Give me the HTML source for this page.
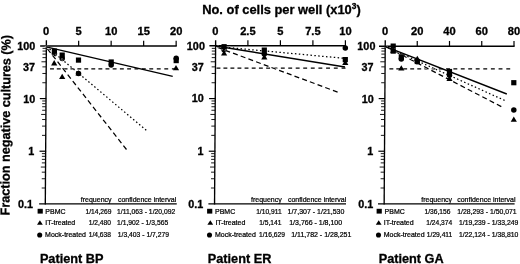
<!DOCTYPE html>
<html><head><meta charset="utf-8"><title>Figure</title>
<style>html,body{margin:0;padding:0;background:#fff}body{width:520px;height:264px;overflow:hidden}svg{display:block}</style>
</head><body>
<svg width="520" height="264" viewBox="0 0 520 264">
<rect width="520" height="264" fill="#fff"/>
<text transform="translate(202.2 14.4) scale(1.015 1)" style="font-family:'Liberation Sans',sans-serif;font-weight:bold;font-size:12.7px" fill="#000" stroke="#000" stroke-width="0.3">No. of cells per well (x10<tspan dy="-5.2" font-size="8.3px">3</tspan><tspan dy="5.2">)</tspan></text>
<text transform="translate(9.4 215.4) rotate(-89.62) scale(0.9725 1)" style="font-family:'Liberation Sans',sans-serif;font-weight:bold;font-size:13px" fill="#000" stroke="#000" stroke-width="0.3">Fraction negative cultures (%)</text>
<g stroke="#000" stroke-width="1.35" fill="none" stroke-linecap="butt">
<path d="M46.40 40.35 L45.30 204.45"/>
<path d="M40.15 45.95 H176.75" stroke-width="1.5"/>
<path d="M39.15 203.85 H176.75" stroke-width="1.3"/>
<path d="M78.65 40.65 V45.95" stroke-width="1.2"/>
<path d="M111.15 40.65 V45.95" stroke-width="1.2"/>
<path d="M143.65 40.65 V45.95" stroke-width="1.2"/>
<path d="M176.15 40.65 V45.95" stroke-width="1.2"/>
</g>
<g stroke="#000" stroke-width="0.9" fill="none">
<path d="M42.33 82.74 H45.93"/>
<path d="M42.39 73.47 H45.99"/>
<path d="M42.42 66.89 H46.02"/>
<path d="M41.46 61.79 H46.06"/>
<path d="M42.48 57.63 H46.08"/>
<path d="M42.50 54.10 H46.10"/>
<path d="M42.52 51.05 H46.12"/>
<path d="M42.54 48.36 H46.14"/>
<path d="M39.83 98.58 H46.15" stroke-width="1.2"/>
<path d="M42.01 135.37 H45.61"/>
<path d="M42.07 126.10 H45.67"/>
<path d="M42.11 119.53 H45.71"/>
<path d="M41.14 114.43 H45.74"/>
<path d="M42.16 110.26 H45.76"/>
<path d="M42.19 106.74 H45.79"/>
<path d="M42.20 103.68 H45.80"/>
<path d="M42.22 100.99 H45.82"/>
<path d="M39.52 151.22 H46.15" stroke-width="1.2"/>
<path d="M41.70 188.01 H45.30"/>
<path d="M41.75 178.74 H45.35"/>
<path d="M41.79 172.16 H45.39"/>
<path d="M40.82 167.06 H45.42"/>
<path d="M41.85 162.89 H45.45"/>
<path d="M41.87 159.37 H45.47"/>
<path d="M41.89 156.32 H45.49"/>
<path d="M41.90 153.63 H45.50"/>
</g>
<g style="font-family:'Liberation Sans',sans-serif;font-weight:bold;font-size:10.2px" fill="#000" stroke="#000" stroke-width="0.3">
<text transform="translate(46.15 34.6) scale(1.09 1)" text-anchor="middle">0</text>
<text transform="translate(78.65 34.6) scale(1.09 1)" text-anchor="middle">5</text>
<text transform="translate(111.15 34.6) scale(1.09 1)" text-anchor="middle">10</text>
<text transform="translate(143.65 34.6) scale(1.09 1)" text-anchor="middle">15</text>
<text transform="translate(176.15 34.6) scale(1.09 1)" text-anchor="middle">20</text>
<text transform="translate(35.35 49.65) scale(1.06 1)" text-anchor="end">100</text>
<text transform="translate(35.10 71.18) scale(1.06 1)" text-anchor="end">37</text>
<text transform="translate(35.17 102.78) scale(1.06 1)" text-anchor="end">10</text>
<text transform="translate(34.19 155.12) scale(1.06 1)" text-anchor="end">1</text>
<text transform="translate(33.01 208.45) scale(1.06 1)" text-anchor="end">0.1</text>
</g>
<path d="M50.05 68.83h3.9M56.80 68.83h3.9M63.60 68.83h3.9M70.45 68.83h3.9M77.36 68.83h3.9M84.31 68.83h3.9M91.32 68.83h3.9M98.39 68.83h3.9M105.50 68.83h3.9M112.67 68.83h3.9M119.89 68.83h3.9M127.16 68.83h3.9M134.49 68.83h3.9M141.86 68.83h3.9M149.29 68.83h3.9M156.78 68.83h3.9M164.31 68.83h3.9M171.90 68.83h3.9" stroke="#000" stroke-width="1.25" fill="none"/>
<circle cx="54.4" cy="53.7" r="2.75" fill="#000"/>
<path d="M54.2 60.10 L57.30 65.40 H51.10 Z" fill="#000"/>
<circle cx="62.2" cy="58.4" r="2.75" fill="#000"/>
<path d="M62.2 73.70 L65.30 79.00 H59.10 Z" fill="#000"/>
<circle cx="111.2" cy="65.0" r="2.75" fill="#000"/>
<circle cx="176.2" cy="58.2" r="2.75" fill="#000"/>
<path d="M176.0 64.90 L179.10 70.20 H172.90 Z" fill="#000"/>
<path d="M45.3 46.1 L126.5 149.5" stroke="#fff" stroke-width="1.9" stroke-dasharray="5.8 2.4" stroke-dashoffset="5.13" fill="none"/>
<path d="M45.3 46.1 L126.5 149.5" stroke="#000" stroke-width="1.25" stroke-dasharray="5 3.2" stroke-dashoffset="4.73" fill="none"/>
<path d="M46.1 46.1 L146.25 130.2" stroke="#fff" stroke-width="1.9" stroke-dasharray="1.9 2.0" stroke-dashoffset="3.52" fill="none"/>
<path d="M46.1 46.1 L146.25 130.2" stroke="#000" stroke-width="1.25" stroke-dasharray="1.5 2.4" stroke-dashoffset="3.32" fill="none"/>
<path d="M46.2 46.8 L172.7 76.3" stroke="#000" stroke-width="1.35"  fill="none"/>
<rect x="51.80" y="48.50" width="5.2" height="5.2" fill="#000"/>
<rect x="59.60" y="52.50" width="5.2" height="5.2" fill="#000"/>
<rect x="75.90" y="57.50" width="5.2" height="5.2" fill="#000"/>
<circle cx="78.5" cy="73.6" r="2.75" fill="#000"/>
<path d="M78.5 70.20 L81.60 75.50 H75.40 Z" fill="#000"/>
<rect x="108.60" y="59.40" width="5.2" height="5.2" fill="#000"/>
<rect x="173.60" y="58.00" width="5.2" height="5.2" fill="#000"/>
<g style="font-family:'Liberation Sans',sans-serif;font-size:7px" fill="#000" stroke="#000" stroke-width="0.22">
<rect x="37.60" y="208.8" width="5.2" height="4.8" fill="#000" stroke="none"/>
<path d="M39.90 220.2 L42.80 224.8 H37.00 Z" fill="#000" stroke="none"/>
<circle cx="39.70" cy="234.95" r="2.55" fill="#000" stroke="none"/>
<text x="45.3" y="213.5">PBMC</text>
<text x="45.3" y="225.3">IT-treated</text>
<text x="45.1" y="237.2">Mock-treated</text>
<text x="80.8" y="201.9">frequency</text>
<text x="117.9" y="201.9">confidence interval</text>
<text transform="translate(111.5 213.5) scale(0.955 1)" text-anchor="end">1/14,269</text>
<text transform="translate(117.0 213.5) scale(0.97 1)">1/11,063 - 1/20,092</text>
<text transform="translate(111.0 225.3) scale(0.955 1)" text-anchor="end">1/2,480</text>
<text transform="translate(117.0 225.3) scale(0.97 1)">1/1,902 - 1/3,565</text>
<text transform="translate(111.0 237.2) scale(0.955 1)" text-anchor="end">1/4,638</text>
<text transform="translate(117.8 237.2) scale(0.97 1)">1/3,403 - 1/7,279</text>
</g>
<text transform="translate(39.9 263.0) scale(1.017 1)" style="font-family:'Liberation Sans',sans-serif;font-weight:bold;font-size:12.5px" fill="#000" stroke="#000" stroke-width="0.3">Patient BP</text>
<g stroke="#000" stroke-width="1.35" fill="none" stroke-linecap="butt">
<path d="M215.65 40.35 L214.55 204.45"/>
<path d="M209.4 45.650000000000006 H346.0" stroke-width="1.5"/>
<path d="M208.4 203.85 H346.0" stroke-width="1.3"/>
<path d="M247.9 40.35 V45.650000000000006" stroke-width="1.2"/>
<path d="M280.4 40.35 V45.650000000000006" stroke-width="1.2"/>
<path d="M312.9 40.35 V45.650000000000006" stroke-width="1.2"/>
<path d="M345.4 40.35 V45.650000000000006" stroke-width="1.2"/>
</g>
<g stroke="#000" stroke-width="0.9" fill="none">
<path d="M211.58 82.74 H215.18"/>
<path d="M211.64 73.47 H215.24"/>
<path d="M211.67 66.89 H215.27"/>
<path d="M210.71 61.79 H215.31"/>
<path d="M211.73 57.63 H215.33"/>
<path d="M211.75 54.10 H215.35"/>
<path d="M211.77 51.05 H215.37"/>
<path d="M211.79 48.36 H215.39"/>
<path d="M209.08 98.58 H215.4" stroke-width="1.2"/>
<path d="M211.26 135.37 H214.86"/>
<path d="M211.32 126.10 H214.92"/>
<path d="M211.36 119.53 H214.96"/>
<path d="M210.39 114.43 H214.99"/>
<path d="M211.41 110.26 H215.01"/>
<path d="M211.44 106.74 H215.04"/>
<path d="M211.45 103.68 H215.05"/>
<path d="M211.47 100.99 H215.07"/>
<path d="M208.77 151.22 H215.4" stroke-width="1.2"/>
<path d="M210.95 188.01 H214.55"/>
<path d="M211.00 178.74 H214.60"/>
<path d="M211.04 172.16 H214.64"/>
<path d="M210.07 167.06 H214.67"/>
<path d="M211.10 162.89 H214.70"/>
<path d="M211.12 159.37 H214.72"/>
<path d="M211.14 156.32 H214.74"/>
<path d="M211.15 153.63 H214.75"/>
</g>
<g style="font-family:'Liberation Sans',sans-serif;font-weight:bold;font-size:10.2px" fill="#000" stroke="#000" stroke-width="0.3">
<text transform="translate(215.4 34.6) scale(1.09 1)" text-anchor="middle">0</text>
<text transform="translate(247.9 34.6) scale(1.09 1)" text-anchor="middle">2.5</text>
<text transform="translate(280.4 34.6) scale(1.09 1)" text-anchor="middle">5</text>
<text transform="translate(312.9 34.6) scale(1.09 1)" text-anchor="middle">7.5</text>
<text transform="translate(345.4 34.6) scale(1.09 1)" text-anchor="middle">10</text>
<text transform="translate(204.90 50.25) scale(1.06 1)" text-anchor="end">100</text>
<text transform="translate(203.65 71.18) scale(1.06 1)" text-anchor="end">37</text>
<text transform="translate(203.82 102.48) scale(1.06 1)" text-anchor="end">10</text>
<text transform="translate(203.44 155.32) scale(1.06 1)" text-anchor="end">1</text>
<text transform="translate(203.16 208.25) scale(1.06 1)" text-anchor="end">0.1</text>
</g>
<path d="M216.50 68.23h3.9M223.44 68.23h3.9M230.43 68.23h3.9M237.47 68.23h3.9M244.57 68.23h3.9M251.72 68.23h3.9M258.92 68.23h3.9M266.17 68.23h3.9M273.48 68.23h3.9M280.84 68.23h3.9M288.25 68.23h3.9M295.71 68.23h3.9M303.23 68.23h3.9M310.80 68.23h3.9M318.42 68.23h3.9M326.09 68.23h3.9M333.82 68.23h3.9M341.60 68.23h3.9" stroke="#000" stroke-width="1.25" fill="none"/>
<circle cx="224.1" cy="49.7" r="2.75" fill="#000"/>
<path d="M224.1 50.20 L227.20 55.50 H221.00 Z" fill="#000"/>
<circle cx="264.3" cy="54.1" r="2.75" fill="#000"/>
<path d="M264.3 54.10 L267.40 59.40 H261.20 Z" fill="#000"/>
<circle cx="345.3" cy="48.1" r="2.75" fill="#000"/>
<path d="M345.3 59.70 L348.40 65.00 H342.20 Z" fill="#000"/>
<path d="M215.4 46.6 L337.6 92.1" stroke="#fff" stroke-width="1.9" stroke-dasharray="5.8 2.4" stroke-dashoffset="6.20" fill="none"/>
<path d="M215.4 46.6 L337.6 92.1" stroke="#000" stroke-width="1.25" stroke-dasharray="5 3.2" stroke-dashoffset="5.80" fill="none"/>
<path d="M215.6 46.4 L343.0 58.2" stroke="#fff" stroke-width="1.9" stroke-dasharray="1.9 2.0" stroke-dashoffset="2.45" fill="none"/>
<path d="M215.6 46.4 L343.0 58.2" stroke="#000" stroke-width="1.25" stroke-dasharray="1.5 2.4" stroke-dashoffset="2.25" fill="none"/>
<path d="M215.6 46.0 L345.0 67.0" stroke="#000" stroke-width="1.35"  fill="none"/>
<rect x="221.50" y="44.10" width="5.2" height="5.2" fill="#000"/>
<rect x="261.70" y="47.50" width="5.2" height="5.2" fill="#000"/>
<rect x="342.70" y="57.00" width="5.2" height="5.2" fill="#000"/>
<g style="font-family:'Liberation Sans',sans-serif;font-size:7px" fill="#000" stroke="#000" stroke-width="0.22">
<rect x="207.10" y="208.8" width="5.2" height="4.8" fill="#000" stroke="none"/>
<path d="M210.30 220.2 L213.20 224.8 H207.40 Z" fill="#000" stroke="none"/>
<circle cx="209.50" cy="234.95" r="2.55" fill="#000" stroke="none"/>
<text x="215.0" y="213.5">PBMC</text>
<text x="215.4" y="225.3">IT-treated</text>
<text x="215.0" y="237.2">Mock-treated</text>
<text x="251.0" y="201.9">frequency</text>
<text x="287.9" y="201.9">confidence interval</text>
<text transform="translate(281.6 213.5) scale(0.955 1)" text-anchor="end">1/10,911</text>
<text transform="translate(287.5 213.5) scale(1.0 1)">1/7,307 - 1/21,530</text>
<text transform="translate(281.4 225.3) scale(0.955 1)" text-anchor="end">1/5,141</text>
<text transform="translate(289.2 225.3) scale(1.0 1)">1/3,766 - 1/8,100</text>
<text transform="translate(284.9 237.2) scale(0.955 1)" text-anchor="end">1/16,629</text>
<text transform="translate(291.2 237.2) scale(1.0 1)">1/11,782 - 1/28,251</text>
</g>
<text transform="translate(207.8 263.0) scale(1.017 1)" style="font-family:'Liberation Sans',sans-serif;font-weight:bold;font-size:12.5px" fill="#000" stroke="#000" stroke-width="0.3">Patient ER</text>
<g stroke="#000" stroke-width="1.35" fill="none" stroke-linecap="butt">
<path d="M385.25 40.35 L384.15 204.45"/>
<path d="M379.0 46.25 H514.6" stroke-width="1.5"/>
<path d="M378.0 203.85 H514.6" stroke-width="1.3"/>
<path d="M417.25 40.95 V46.25" stroke-width="1.2"/>
<path d="M449.5 40.95 V46.25" stroke-width="1.2"/>
<path d="M481.75 40.95 V46.25" stroke-width="1.2"/>
<path d="M514.0 40.95 V46.25" stroke-width="1.2"/>
</g>
<g stroke="#000" stroke-width="0.9" fill="none">
<path d="M381.18 82.74 H384.78"/>
<path d="M381.24 73.47 H384.84"/>
<path d="M381.27 66.89 H384.87"/>
<path d="M380.31 61.79 H384.91"/>
<path d="M381.33 57.63 H384.93"/>
<path d="M381.35 54.10 H384.95"/>
<path d="M381.37 51.05 H384.97"/>
<path d="M381.39 48.36 H384.99"/>
<path d="M378.68 98.58 H385.0" stroke-width="1.2"/>
<path d="M380.86 135.37 H384.46"/>
<path d="M380.92 126.10 H384.52"/>
<path d="M380.96 119.53 H384.56"/>
<path d="M379.99 114.43 H384.59"/>
<path d="M381.01 110.26 H384.61"/>
<path d="M381.04 106.74 H384.64"/>
<path d="M381.05 103.68 H384.65"/>
<path d="M381.07 100.99 H384.67"/>
<path d="M378.37 151.22 H385.0" stroke-width="1.2"/>
<path d="M380.55 188.01 H384.15"/>
<path d="M380.60 178.74 H384.20"/>
<path d="M380.64 172.16 H384.24"/>
<path d="M379.67 167.06 H384.27"/>
<path d="M380.70 162.89 H384.30"/>
<path d="M380.72 159.37 H384.32"/>
<path d="M380.74 156.32 H384.34"/>
<path d="M380.75 153.63 H384.35"/>
</g>
<g style="font-family:'Liberation Sans',sans-serif;font-weight:bold;font-size:10.2px" fill="#000" stroke="#000" stroke-width="0.3">
<text transform="translate(385.0 34.6) scale(1.09 1)" text-anchor="middle">0</text>
<text transform="translate(417.25 34.6) scale(1.09 1)" text-anchor="middle">20</text>
<text transform="translate(449.5 34.6) scale(1.09 1)" text-anchor="middle">40</text>
<text transform="translate(481.75 34.6) scale(1.09 1)" text-anchor="middle">60</text>
<text transform="translate(514.0 34.6) scale(1.09 1)" text-anchor="middle">80</text>
<text transform="translate(375.40 50.15) scale(1.06 1)" text-anchor="end">100</text>
<text transform="translate(373.45 70.98) scale(1.06 1)" text-anchor="end">37</text>
<text transform="translate(373.82 102.58) scale(1.06 1)" text-anchor="end">10</text>
<text transform="translate(373.24 155.32) scale(1.06 1)" text-anchor="end">1</text>
<text transform="translate(373.16 208.25) scale(1.06 1)" text-anchor="end">0.1</text>
</g>
<path d="M389.40 68.88h3.9M396.29 68.88h3.9M403.23 68.88h3.9M410.23 68.88h3.9M417.28 68.88h3.9M424.39 68.88h3.9M431.56 68.88h3.9M438.78 68.88h3.9M446.06 68.88h3.9M453.39 68.88h3.9M460.78 68.88h3.9M468.23 68.88h3.9M475.73 68.88h3.9M483.29 68.88h3.9M490.90 68.88h3.9M498.57 68.88h3.9M506.30 68.88h3.9" stroke="#000" stroke-width="1.25" fill="none"/>
<path d="M393.2 47.50 L396.30 52.80 H390.10 Z" fill="#000"/>
<circle cx="401.3" cy="59.0" r="2.75" fill="#000"/>
<path d="M401.3 65.20 L404.40 70.50 H398.20 Z" fill="#000"/>
<circle cx="417.3" cy="61.8" r="2.75" fill="#000"/>
<circle cx="513.8" cy="110.1" r="2.75" fill="#000"/>
<path d="M513.8 116.50 L516.90 121.80 H510.70 Z" fill="#000"/>
<path d="M385 46.3 L501.3 106.6" stroke="#fff" stroke-width="1.9" stroke-dasharray="5.8 2.4" stroke-dashoffset="5.60" fill="none"/>
<path d="M385 46.3 L501.3 106.6" stroke="#000" stroke-width="1.25" stroke-dasharray="5 3.2" stroke-dashoffset="5.20" fill="none"/>
<path d="M385 46.3 L504.6 100.4" stroke="#fff" stroke-width="1.9" stroke-dasharray="1.9 2.0" stroke-dashoffset="3.03" fill="none"/>
<path d="M385 46.3 L504.6 100.4" stroke="#000" stroke-width="1.25" stroke-dasharray="1.5 2.4" stroke-dashoffset="2.83" fill="none"/>
<path d="M385 46.3 L506.8 94.0" stroke="#000" stroke-width="1.35"  fill="none"/>
<rect x="390.60" y="43.50" width="5.2" height="5.2" fill="#000"/>
<rect x="390.60" y="48.50" width="5.2" height="5.2" fill="#000"/>
<rect x="398.70" y="54.20" width="5.2" height="5.2" fill="#000"/>
<path d="M417.3 55.80 L420.40 61.10 H414.20 Z" fill="#000"/>
<rect x="414.70" y="58.90" width="5.2" height="5.2" fill="#000"/>
<rect x="446.90" y="68.90" width="5.2" height="5.2" fill="#000"/>
<path d="M449.5 75.70 L452.60 81.00 H446.40 Z" fill="#000"/>
<circle cx="449.5" cy="75.2" r="2.75" fill="#000"/>
<rect x="511.20" y="80.10" width="5.2" height="5.2" fill="#000"/>
<g style="font-family:'Liberation Sans',sans-serif;font-size:7px" fill="#000" stroke="#000" stroke-width="0.22">
<rect x="376.60" y="208.8" width="5.2" height="4.8" fill="#000" stroke="none"/>
<path d="M378.70 220.2 L381.60 224.8 H375.80 Z" fill="#000" stroke="none"/>
<circle cx="378.50" cy="234.95" r="2.55" fill="#000" stroke="none"/>
<text x="384.6" y="213.5">PBMC</text>
<text x="383.7" y="225.3">IT-treated</text>
<text x="383.7" y="237.2">Mock-treated</text>
<text x="421.3" y="201.9">frequency</text>
<text x="457.2" y="201.9">confidence interval</text>
<text transform="translate(450.5 213.5) scale(0.955 1)" text-anchor="end">1/36,156</text>
<text transform="translate(457.2 213.5) scale(0.98 1)">1/28,293 - 1/50,071</text>
<text transform="translate(452.2 225.3) scale(0.955 1)" text-anchor="end">1/24,374</text>
<text transform="translate(459.0 225.3) scale(0.98 1)">1/19,239 - 1/33,249</text>
<text transform="translate(452.3 237.2) scale(0.955 1)" text-anchor="end">1/29,411</text>
<text transform="translate(459.0 237.2) scale(0.98 1)">1/22,124 - 1/38,810</text>
</g>
<text transform="translate(378.7 263.0) scale(1.017 1)" style="font-family:'Liberation Sans',sans-serif;font-weight:bold;font-size:12.5px" fill="#000" stroke="#000" stroke-width="0.3">Patient GA</text>
</svg>
</body></html>
